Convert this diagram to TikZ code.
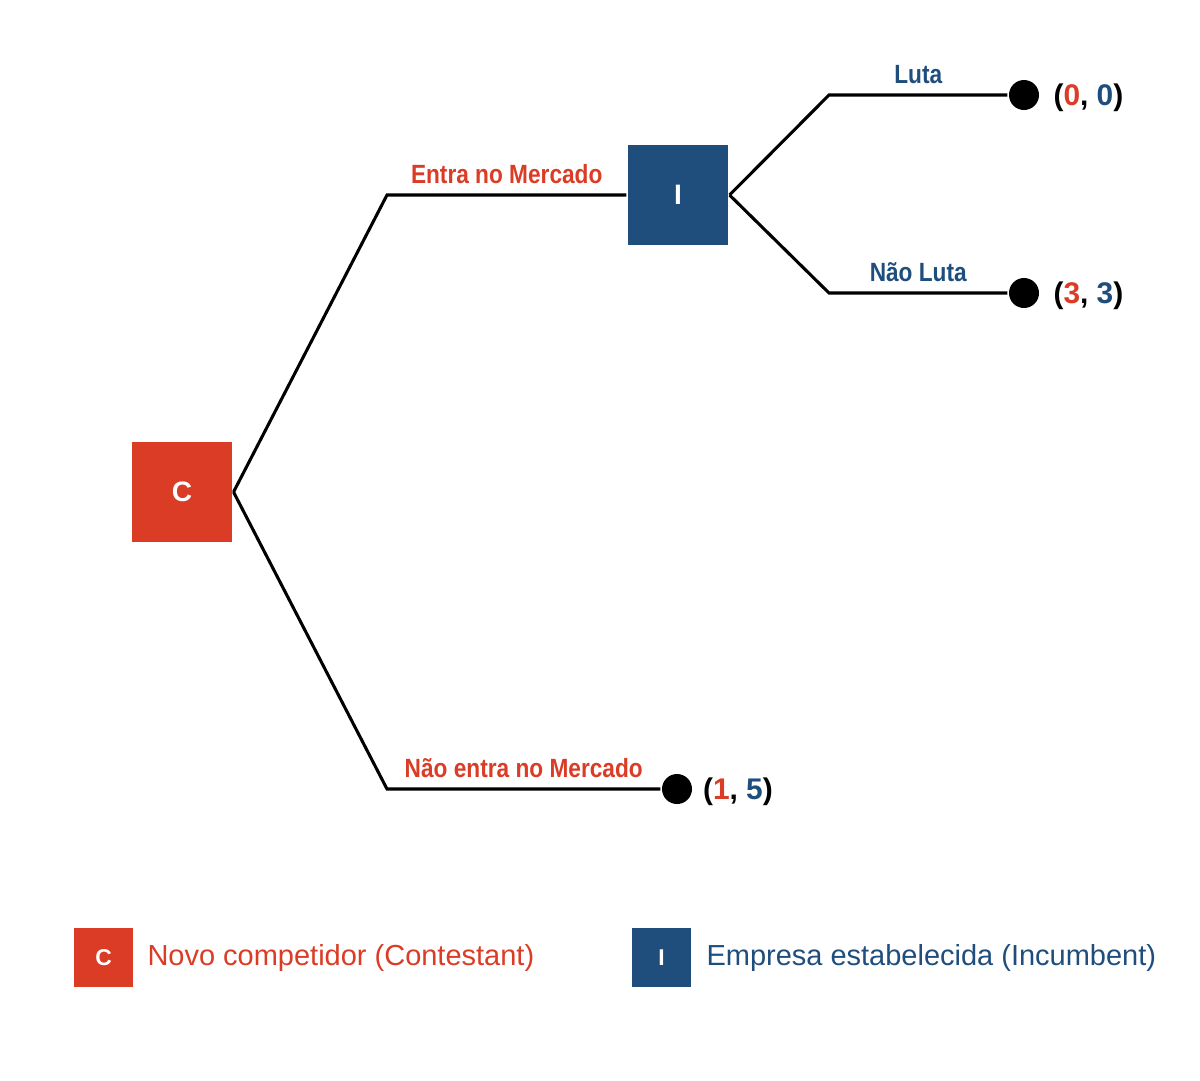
\documentclass[tikz,border=0pt]{standalone}
\usepackage{fontspec}
\setmainfont{Liberation Sans}
\newfontfamily\narrowfont{Liberation Sans}[FakeStretch=0.86]
\usetikzlibrary{positioning}
\definecolor{contred}{HTML}{DA3C26}
\definecolor{incblue}{HTML}{1F4E7D}

\begin{document}
\begin{tikzpicture}[x=0.02cm, y=-0.02cm, line width=1.75pt,
        player/.style = {minimum size=2cm, inner sep=0, text=white, font=\fontsize{16}{16}\selectfont\bfseries},
        leaf/.style = {circle, fill=black, minimum size=0.6cm, inner sep=0},
        move/.style = {above=2pt, font=\narrowfont\fontsize{15}{15}\selectfont\bfseries},
        payoff/.style = {inner sep=0, yshift=-1.5pt, font=\fontsize{17}{17}\selectfont\bfseries},
        key/.style = {minimum size=1.18cm, inner sep=0, text=white, font=\fontsize{13}{13}\selectfont\bfseries},
        keytext/.style = {inner sep=0, anchor=west, font=\fontsize{16.5}{16.5}\selectfont}]
        \useasboundingbox (0,0) rectangle (1200,1080);

        \node[player, fill=contred] (C) at (182,492) {C};
        \node[player, fill=incblue] (I) at (678,195) {I};
        \coordinate (ce) at (387,195);
        \coordinate (cn) at (387,789);
        \coordinate (il) at (829,95);
        \coordinate (in) at (829,293);
        \node[leaf] (d1) at (1024,95) {};
        \node[leaf] (d2) at (1024,293) {};
        \node[leaf] (d3) at (677,789) {};

        \node[payoff, right=0.23cm of d1] (p1) {(\textcolor{contred}{0}, \textcolor{incblue}{0})};
        \node[payoff, right=0.23cm of d2] (p2) {(\textcolor{contred}{3}, \textcolor{incblue}{3})};
        \node[payoff, right=0.16cm of d3] (p3) {(\textcolor{contred}{1}, \textcolor{incblue}{5})};

        \draw (C.east) -- (ce) -- (I.west) node [midway, move, text=contred] {Entra no Mercado};
        \draw (C.east) -- (cn) -- (d3) node [midway, move, text=contred] {Não entra no Mercado};
        \draw (I.east) -- (il) -- (d1) node [midway, move, text=incblue] {Luta};
        \draw (I.east) -- (in) -- (d2) node [midway, move, text=incblue] {Não Luta};

        % legend
        \node[key, fill=contred] (kc) at (103.5,957.5) {C};
        \node[keytext, text=contred] (tc) at (146,958) {Novo competidor (Contestant)};
        \node[key, fill=incblue] (ki) at (661.5,957.5) {I};
        \node[keytext, text=incblue] (ti) at (705,958) {Empresa estabelecida (Incumbent)};

    \end{tikzpicture}
\end{document}
